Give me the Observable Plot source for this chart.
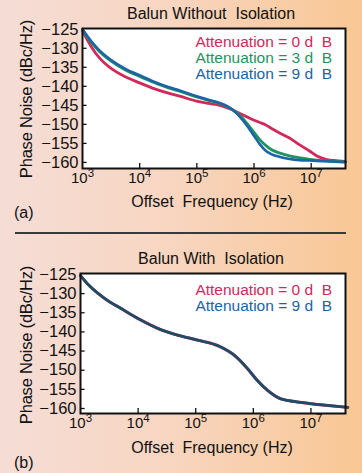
<!DOCTYPE html>
<html>
<head>
<meta charset="utf-8">
<script src="https://cdn.jsdelivr.net/npm/d3@7"></script>
<script src="https://cdn.jsdelivr.net/npm/@observablehq/plot@0.6"></script>
<style>
  html, body { margin: 0; padding: 0; }
  body { width: 362px; height: 473px; overflow: hidden; font-family: "Liberation Sans", Arial, sans-serif; }
  #wrap { position: relative; width: 362px; height: 473px;
    background: linear-gradient(to right, #f5ddd6 0%, #f8d6c2 45%, #f9c794 100%); }
  .abs { position: absolute; white-space: pre; color: #111; line-height: 1; }
  .plot { position: absolute; left: 0; }
  .plot svg { background: transparent !important; overflow: visible; }
</style>
</head>
<body>
<div id="wrap"></div>
<script>
// ---------- data ----------
const titles = ["Balun Without  Isolation", "Balun With  Isolation"];
const xLabel = "Offset  Frequency (Hz)";
const yLabel = "Phase Noise (dBc/Hz)";
const panelTags = ["(a)", "(b)"];
const legendA = ["Attenuation = 0 d  B", "Attenuation = 3 d  B", "Attenuation = 9 d  B"];
const legendB = ["Attenuation = 0 d  B", "Attenuation = 9 d  B"];
const xTicks = [1e3, 1e4, 1e5, 1e6, 1e7];
const yTicks = [-125, -130, -135, -140, -145, -150, -155, -160];

// log10 of offset frequency for each sample
const logFA = [3.0, 3.15, 3.3, 3.5, 3.75, 4.0, 4.25, 4.5, 4.7, 5.0, 5.2, 5.4, 5.63, 5.8, 5.9, 6.0, 6.1, 6.21, 6.3, 6.44, 6.62, 6.8, 6.97, 7.1, 7.26, 7.4, 7.6];
// Panel (a): without isolation
const att0A = [-125.5, -129.5, -132.6, -135.3, -137.5, -139.1, -140.6, -141.8, -142.6, -143.9, -144.5, -145.0, -146.2, -147.5, -148.2, -148.9, -149.5, -150.2, -151.0, -152.2, -153.6, -155.4, -157.0, -158.3, -159.2, -159.5, -159.8];
const att3A = [-125.2, -128.4, -130.9, -133.4, -135.7, -137.4, -139.0, -140.4, -141.3, -142.8, -143.7, -144.5, -146.2, -148.4, -150.2, -152.1, -154.0, -155.6, -156.6, -157.5, -158.3, -158.8, -159.2, -159.4, -159.6, -159.7, -159.9];
const att9A = [-125.0, -128.1, -130.6, -133.1, -135.4, -137.1, -138.8, -140.2, -141.1, -142.6, -143.5, -144.4, -146.2, -148.8, -150.8, -153.0, -155.2, -157.0, -157.8, -158.5, -159.1, -159.4, -159.5, -159.6, -159.7, -159.8, -159.9];

const logFB = [3.0, 3.15, 3.31, 3.5, 3.66, 4.01, 4.36, 4.7, 5.05, 5.4, 5.67, 5.9, 6.07, 6.25, 6.48, 6.83, 7.29, 7.64];
// Panel (b): with isolation
const att0B = [-125.3, -127.9, -130.0, -132.1, -133.5, -136.6, -139.2, -140.9, -142.2, -143.7, -146.1, -149.6, -152.7, -155.3, -157.5, -158.4, -159.2, -159.7];
const att9B = [-125.3, -127.9, -130.0, -132.1, -133.5, -136.6, -139.2, -140.9, -142.2, -143.7, -146.1, -149.6, -152.7, -155.3, -157.5, -158.4, -159.2, -159.7];

const colRed = "#d2285a", colGreen = "#1f9460", colBlue = "#1b64a6", colTeal = "#1d4d66";

// ---------- helpers ----------
const wrap = document.getElementById("wrap");
function addText(txt, css) {
  const d = document.createElement("div");
  d.className = "abs";
  d.textContent = txt;
  Object.assign(d.style, css);
  wrap.appendChild(d);
  return d;
}
function series(logF, vals, name) {
  return logF.map((l, i) => ({f: Math.pow(10, l), v: vals[i], s: name}));
}

function panel({top, marginLeft, yDomain, lines}) {
  const xDomain = [1e3, Math.pow(10, 7.6)];
  const marks = [];
  for (const ln of lines) {
    marks.push(Plot.line(ln.data, {x: "f", y: "v", stroke: ln.color, strokeWidth: ln.width, curve: "monotone-x"}));
  }
  // inward tick marks
  const xInner = xTicks.slice(1);
  const yInner = yTicks.slice(1);
  const dy = (yDomain[1] - yDomain[0]) * 0.035;
  marks.push(Plot.ruleX(xInner, {x: d => d, y1: yDomain[0], y2: yDomain[0] + dy, stroke: "#111", strokeWidth: 1.3}));
  marks.push(Plot.ruleY(yInner, {y: d => d, x1: 1e3, x2: Math.pow(10, 3.08), stroke: "#111", strokeWidth: 1.3}));
  marks.push(Plot.frame({stroke: "#111", strokeWidth: 2}));
  marks.push(Plot.axisX(xTicks, {tickSize: 0, tickPadding: 4, fontSize: 15, tickFormat: d => "10^" + Math.round(Math.log10(d)), label: null}));
  marks.push(Plot.axisY(yTicks, {tickSize: 0, tickPadding: 4, fontSize: 16.5, tickFormat: d => "\u2212" + Math.abs(d), label: null}));
  const svg = Plot.plot({
    width: 362, height: 190,
    marginTop: 28, marginBottom: 22, marginLeft, marginRight: 17,
    style: {background: "transparent", fontFamily: "Liberation Sans, Arial, sans-serif", color: "#111"},
    x: {type: "log", domain: xDomain},
    y: {domain: yDomain},
    marks: [Plot.rect([0], {x1: xDomain[0], x2: xDomain[1], y1: yDomain[0], y2: yDomain[1], fill: "white"}), ...marks]
  });
  // superscript exponents
  svg.querySelectorAll('g[aria-label="x-axis tick label"] text').forEach(t => {
    const s = t.textContent;
    const m = s.match(/^10\^(\d+)$/);
    if (m) {
      t.textContent = "10";
      const ts = document.createElementNS("http://www.w3.org/2000/svg", "tspan");
      ts.setAttribute("dy", "-0.5em");
      ts.setAttribute("font-size", "11.5");
      ts.textContent = m[1];
      t.appendChild(ts);
    }
  });
  const holder = document.createElement("div");
  holder.className = "plot";
  holder.style.top = top + "px";
  holder.appendChild(svg);
  wrap.appendChild(holder);
}

// ---------- panel (a) ----------
panel({
  top: 0, marginLeft: 82, yDomain: [-161.6, -124.8],
  lines: [
    {data: series(logFA, att0A, legendA[0]), color: colRed, width: 2.8},
    {data: series(logFA, att3A, legendA[1]), color: colGreen, width: 2.8},
    {data: series(logFA, att9A, legendA[2]), color: colBlue, width: 2.6}
  ]
});
// ---------- panel (b) ----------
panel({
  top: 245, marginLeft: 80, yDomain: [-161.3, -124.75],
  lines: [
    {data: series(logFB, att0B, legendB[0]), color: colRed, width: 3},
    {data: series(logFB, att9B, legendB[1]), color: colTeal, width: 2.8}
  ]
});

// ---------- titles, labels, legends ----------
addText(titles[0], {left: "0px", width: "422px", textAlign: "center", top: "6px", fontSize: "16px"});
addText(titles[1], {left: "0px", width: "422px", textAlign: "center", top: "251px", fontSize: "16px"});
addText(xLabel, {left: "0px", width: "424px", textAlign: "center", top: "194px", fontSize: "16px"});
addText(xLabel, {left: "0px", width: "424px", textAlign: "center", top: "440px", fontSize: "16px"});
for (const cy of [99, 345]) {
  const d = addText(yLabel, {fontSize: "16.5px", left: "26px", top: cy + "px"});
  d.style.transform = "translate(-50%, -50%) rotate(-90deg)";
  d.style.letterSpacing = "-0.2px";
}
addText(panelTags[0], {left: "14px", top: "205px", fontSize: "16px"});
addText(panelTags[1], {left: "14px", top: "455px", fontSize: "16px"});
const legColsA = [colRed, colGreen, colBlue];
legendA.forEach((t, i) => addText(t, {right: (362 - 332) + "px", top: (34 + 16 * i) + "px", fontSize: "15.5px", color: legColsA[i]}));
const legColsB = [colRed, colBlue];
legendB.forEach((t, i) => addText(t, {right: (362 - 332) + "px", top: (282 + 16 * i) + "px", fontSize: "15.5px", color: legColsB[i]}));
// separator
const sep = document.createElement("div");
Object.assign(sep.style, {position: "absolute", left: "15px", width: "331px", top: "232px", height: "1.5px", background: "#3a3a3a"});
wrap.appendChild(sep);
</script>
</body>
</html>
